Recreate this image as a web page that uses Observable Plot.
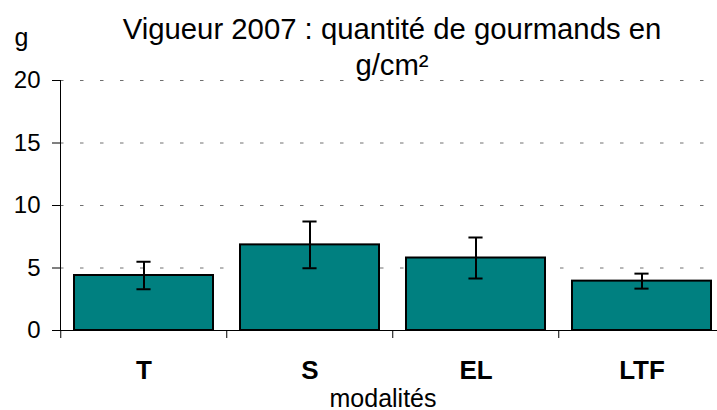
<!DOCTYPE html>
<html>
<head>
<meta charset="utf-8">
<script src="https://cdn.jsdelivr.net/npm/d3@7"></script>
<script src="https://cdn.jsdelivr.net/npm/@observablehq/plot@0.6"></script>
<style>
  body { margin: 0; background: #fff; }
  svg { font-family: "Liberation Sans", Arial, sans-serif; color: #000; }
</style>
</head>
<body>
<div id="chart"></div>
<script>
const categories = ["T", "S", "EL", "LTF"];
const values = [4.4, 6.85, 5.8, 3.95];
const errors = [1.1, 1.87, 1.64, 0.6];
const yTicks = [0, 5, 10, 15, 20];
const gridTicks = [5, 10, 15, 20];
const titleText = "Vigueur 2007 : quantité de gourmands en\ng/cm²";
const yUnit = "g";
const xTitle = "modalités";

const data = categories.map((c, i) => ({
  cat: c, value: values[i], lo: values[i] - errors[i], hi: values[i] + errors[i]
}));

const W = 717, H = 410, mL = 60, mT = 80;
const xRange = [mL, 726];
const step = (xRange[1] - xRange[0]) / categories.length;

const chart = Plot.plot({
  width: W,
  height: H,
  marginLeft: mL,
  marginRight: 0,
  marginTop: mT,
  marginBottom: 80,
  style: { fontFamily: "Liberation Sans, Arial, sans-serif", color: "#000", background: "#fff" },
  x: { domain: categories, range: xRange, paddingInner: 0.16, paddingOuter: 0.08, label: null },
  y: { domain: [0, 20], label: null },
  marks: [
    Plot.ruleY(gridTicks, { stroke: "#707070", strokeWidth: 1, strokeDasharray: "3.5,16.5" }),
    Plot.barY(data, { x: "cat", y: "value", fill: "#008080", stroke: "#000", strokeWidth: 2 }),
    Plot.ruleX(data, { x: "cat", y1: "lo", y2: "hi", stroke: "#000", strokeWidth: 2 }),
    Plot.tickY(data, { x: "cat", y: "hi", stroke: "#000", strokeWidth: 2, inset: (step * 0.84 - 15) / 2 }),
    Plot.tickY(data, { x: "cat", y: "lo", stroke: "#000", strokeWidth: 2, inset: (step * 0.84 - 15) / 2 }),
    Plot.ruleY([0], { stroke: "#000", strokeWidth: 1 }),
    Plot.frame({ anchor: "left", stroke: "#000", strokeWidth: 1 }),
    Plot.axisY({ ticks: yTicks, tickSize: 8, tickPadding: 12, fontSize: 24, label: null, stroke: "#000" }),
    Plot.axisX({ tickSize: 0, tickPadding: 30.5, fontSize: 26, fontWeight: "bold", label: null }),
    Plot.axisX({ tickSize: 8, tickFormat: () => "", dx: -step / 2, label: null, stroke: "#000" }),
    Plot.text([titleText], { frameAnchor: "top-left", dx: 331.5, dy: -6, fontSize: 29.3, lineHeight: 36 / 29.3, textAnchor: "middle", lineAnchor: "bottom", fill: "#000" }),
    Plot.text([yUnit], { frameAnchor: "top-left", dx: -39, dy: -35, fontSize: 25, textAnchor: "middle", lineAnchor: "bottom", fill: "#000" }),
    Plot.text([xTitle], { frameAnchor: "top-left", dx: 322.5, dy: 326, fontSize: 25, textAnchor: "middle", lineAnchor: "bottom", fill: "#000" })
  ]
});
document.getElementById("chart").appendChild(chart);
</script>
</body>
</html>
